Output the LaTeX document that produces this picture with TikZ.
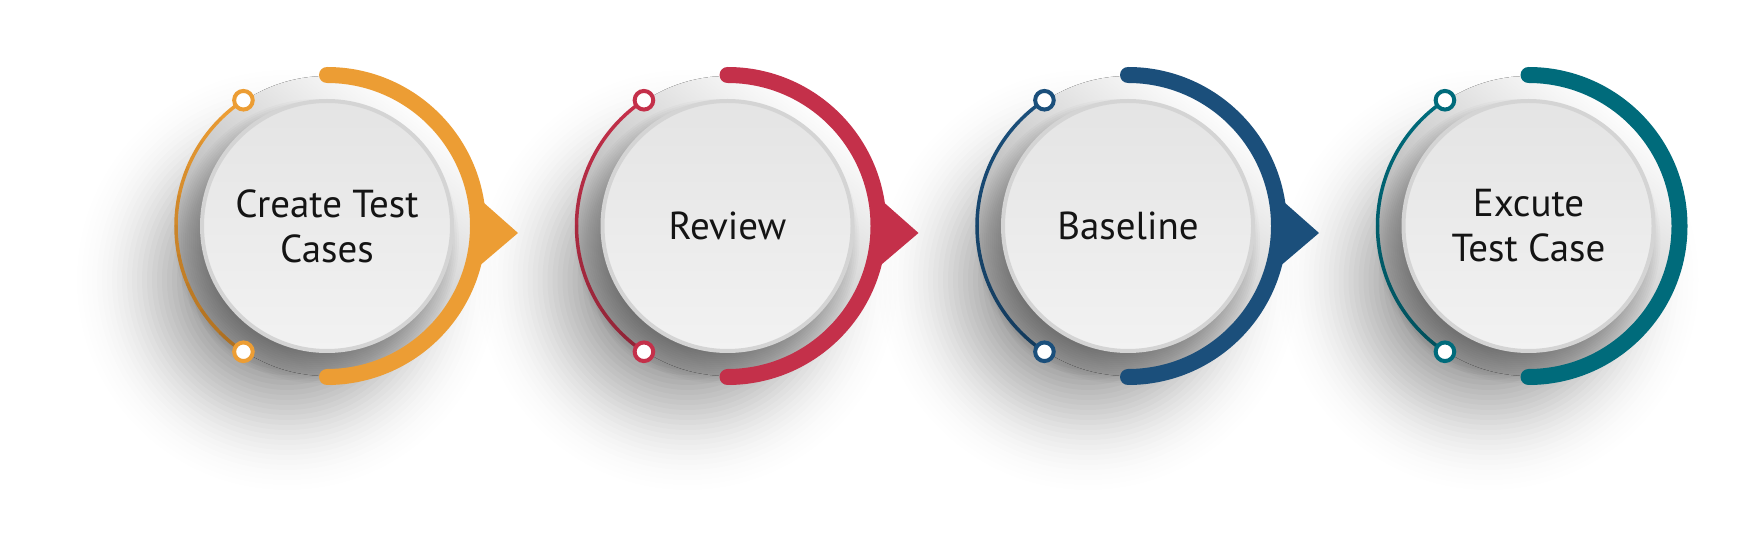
\documentclass[tikz,border=0pt]{standalone}
\usepackage{fontspec}
\setmainfont{PT Sans}
\usetikzlibrary{calc}
\definecolor{cA}{HTML}{EC9D34}\definecolor{dA}{HTML}{A86B1E}
\definecolor{cB}{HTML}{C4304A}\definecolor{dB}{HTML}{8C2335}
\definecolor{cC}{HTML}{1B4F7B}\definecolor{dC}{HTML}{12395A}
\definecolor{cD}{HTML}{006B7B}\definecolor{dD}{HTML}{004E5A}
\definecolor{innertop}{HTML}{E4E4E4}
\definecolor{innerbot}{HTML}{F2F2F2}
\definecolor{innerrim}{HTML}{D4D4D4}
\definecolor{diskgray}{HTML}{9E9E9E}
\tikzset{
  stepdisk/.style={circle, minimum size=250pt, inner sep=0pt, draw=innerrim, line width=4pt,
    top color=innertop, bottom color=innerbot, align=center,
    font=\fontsize{39}{45}\selectfont, text=black!92},
  bigarc/.style={line width=16pt, line cap=round},
  thinarc/.style={line width=3.5pt, line cap=round},
  knob/.style={line width=4pt, fill=white},
}
\begin{document}
\begin{tikzpicture}[x=1pt,y=1pt]
\useasboundingbox (0,0) rectangle (1754,552);
\fill[white] (0,0) rectangle (1754,552);
% centres
\foreach \i in {0,1,2,3}{
  \coordinate (c\i) at ({327+400.5*\i},326);
}
% big soft shadows (stacked translucent discs, softer towards the rim)
\foreach \i in {0,1,2,3}{
  \foreach \r [count=\n from 0] in {210,205,...,50}{
    \pgfmathsetmacro\op{0.002+0.0012*\n}
    \fill[black, opacity=\op] ($(c\i)+(-40,-54)$) circle (\r);
  }
}
\foreach \i/\col/\dk/\txt/\arr in {0/cA/dA/{Create Test\\Cases}/1, 1/cB/dB/Review/1, 2/cC/dC/Baseline/1, 3/cD/dD/{Excute\\Test Case}/0}{
  % white disk
  \fill[top color=white, bottom color=diskgray, shading angle=-38] (c\i) circle (150);
  % soft shadow of the inner disc
  \foreach \r in {142,140,...,112}{
    \fill[black, opacity=0.021] ($(c\i)+(-10,-15)$) circle (\r);
  }
  % thin arc with gradient
  \foreach \k in {0,...,9}{
    \pgfmathsetmacro\aa{123.6+\k*11.28}
    \pgfmathsetmacro\pp{100-\k*10}
    \draw[thinarc, color=\col!\pp!\dk] ($(c\i)+(\aa:151)$) arc[start angle=\aa, delta angle=11.28, radius=151];
  }
  \draw[knob, draw=\col] ($(c\i)+(123.6:151)$) coordinate (ka\i) circle (9.3);
  \draw[knob, draw=\col] ($(c\i)+(236.4:151)$) coordinate (kb\i) circle (9.3);
  % thick arc
  \draw[bigarc, color=\col] ($(c\i)+(90:151)$) arc[start angle=90, end angle=-90, radius=151];
  \ifnum\arr=1
    \fill[\col] ($(c\i)+(148,31)$) -- ($(c\i)+(191,-7)$) coordinate (tip\i) -- ($(c\i)+(144,-47)$) -- cycle;
  \fi
  \node[stepdisk] (n\i) at (c\i) {\txt};
}
\end{tikzpicture}
\end{document}
